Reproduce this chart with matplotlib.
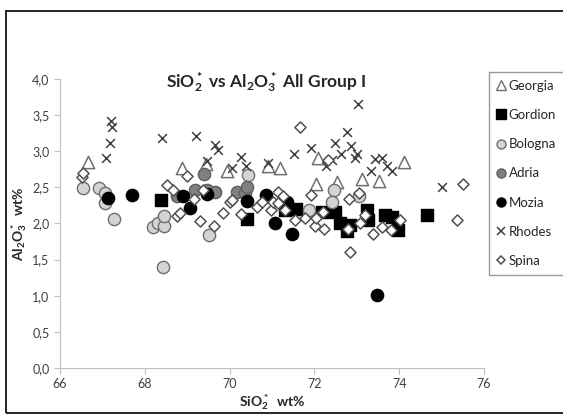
import matplotlib
matplotlib.use("Agg")
import matplotlib.pyplot as plt
from matplotlib.lines import Line2D
from matplotlib.patches import Rectangle
from matplotlib.ticker import FuncFormatter

plt.rcParams['font.family'] = ['Lato', 'DejaVu Sans']
plt.rcParams['mathtext.fontset'] = 'custom'
plt.rcParams['mathtext.rm'] = 'Lato'
plt.rcParams['mathtext.bf'] = 'Lato:bold'

# data (SiO2*, Al2O3* wt%)
georgia_x = [66.67, 68.87, 69.45, 69.95, 70.91, 71.19, 72.09, 72.04, 72.54, 73.12, 73.53, 74.12]
georgia_y = [2.85, 2.77, 2.82, 2.73, 2.79, 2.77, 2.91, 2.54, 2.58, 2.61, 2.59, 2.85]

gordion_x = [68.37, 70.40, 71.30, 71.57, 72.17, 72.49, 72.60, 72.76, 72.84, 73.23, 73.27, 73.66, 73.82, 73.98, 74.65]
gordion_y = [2.33, 2.06, 2.18, 2.20, 2.16, 2.16, 2.01, 1.89, 1.98, 2.19, 2.05, 2.12, 2.09, 1.91, 2.12]

bologna_x = [66.55, 66.93, 67.06, 67.06, 67.27, 68.19, 68.30, 68.45, 68.45, 68.42, 69.52, 70.44, 71.88, 72.46, 72.41, 73.06]
bologna_y = [2.49, 2.49, 2.42, 2.28, 2.06, 1.95, 2.01, 1.96, 2.10, 1.40, 1.84, 2.67, 2.19, 2.47, 2.30, 2.38]

adria_x = [68.75, 69.18, 69.40, 69.46, 69.66, 70.17, 70.36, 70.42]
adria_y = [2.38, 2.47, 2.68, 2.46, 2.44, 2.44, 2.42, 2.51]

mozia_x = [67.13, 67.69, 68.89, 69.07, 69.46, 70.40, 70.86, 71.07, 71.35, 71.46, 73.47]
mozia_y = [2.35, 2.39, 2.38, 2.22, 2.41, 2.31, 2.39, 2.01, 2.30, 1.85, 1.01]

rhodes_x = [67.20, 67.22, 67.18, 67.08, 68.40, 69.21, 69.65, 69.72, 69.46, 70.28, 70.05, 70.38, 70.90,
            71.53, 71.92, 72.27, 72.41, 72.49, 72.62, 72.78, 72.86, 72.95, 73.00, 73.02, 73.33, 73.43,
            73.59, 73.72, 73.82, 75.01]
rhodes_y = [3.42, 3.34, 3.12, 2.91, 3.18, 3.21, 3.08, 3.02, 2.86, 2.92, 2.77, 2.80, 2.84,
            2.96, 3.04, 2.80, 2.88, 3.11, 2.96, 3.27, 3.07, 2.90, 2.96, 3.65, 2.72, 2.89,
            2.90, 2.80, 2.73, 2.50]

spina_x = [66.52, 66.55, 68.52, 68.66, 68.75, 68.83, 68.99, 69.16, 69.30, 69.38, 69.62, 69.85, 70.00,
           70.05, 70.27, 70.64, 70.76, 70.97, 71.02, 71.13, 71.15, 71.25, 71.31, 71.54, 71.65, 71.78,
           71.91, 72.01, 72.04, 72.21, 72.23, 72.31, 72.80, 72.82, 72.84, 73.06, 73.08, 73.20, 73.38,
           73.59, 73.80, 74.02, 75.36, 75.50]
spina_y = [2.65, 2.70, 2.53, 2.46, 2.10, 2.14, 2.66, 2.34, 2.04, 2.46, 1.97, 2.15, 2.30,
           2.33, 2.13, 2.23, 2.30, 2.18, 2.30, 2.28, 2.43, 2.38, 2.19, 2.05, 3.33, 2.08,
           2.40, 1.97, 2.07, 2.16, 1.92, 2.88, 1.93, 2.34, 1.61, 2.42, 2.00, 2.12, 1.85,
           1.95, 1.91, 2.05, 2.05, 2.55]

fig = plt.figure(figsize=(5.63, 4.16), dpi=100)
ax = fig.add_axes([0.1066, 0.1154, 0.7531, 0.6947])

# chart area frame
fig.patches.append(Rectangle((0.0107, 0.0072), 1.2, 0.9664, transform=fig.transFigure,
                             fill=False, edgecolor='black', linewidth=1.2))

ms = 78
ax.scatter(georgia_x, georgia_y, marker='^', s=ms, facecolor='white', edgecolor='#707070', linewidth=1.1, label='Georgia')
ax.scatter(gordion_x, gordion_y, marker='s', s=70, facecolor='black', edgecolor='black', linewidth=1, label='Gordion')
ax.scatter(bologna_x, bologna_y, marker='o', s=ms, facecolor='#d4d4d4', edgecolor='#6e6e6e', linewidth=1, label='Bologna')
ax.scatter(adria_x, adria_y, marker='o', s=ms, facecolor='#808080', edgecolor='#5e5e5e', linewidth=1, label='Adria')
ax.scatter(mozia_x, mozia_y, marker='o', s=ms, facecolor='black', edgecolor='black', linewidth=1, label='Mozia')
ax.scatter(rhodes_x, rhodes_y, marker='x', s=40, color='#404040', linewidth=1.1, label='Rhodes')
ax.scatter(spina_x, spina_y, marker='D', s=32, facecolor='white', edgecolor='#505050', linewidth=1.1, label='Spina')

ax.set_xlim(66, 76)
ax.set_ylim(0, 4)
ax.set_xticks([66, 68, 70, 72, 74, 76])
ax.set_yticks([0, 0.5, 1, 1.5, 2, 2.5, 3, 3.5, 4])
ax.yaxis.set_major_formatter(FuncFormatter(lambda v, p: f"{v:.1f}".replace('.', ',')))
for s in ['top', 'right']:
    ax.spines[s].set_visible(False)
for s in ['left', 'bottom']:
    ax.spines[s].set_color('#bfbfbf')
ax.tick_params(colors='#bfbfbf', labelcolor='#404040', labelsize=9, length=4, direction='out')

ax.set_title(r"SiO$\mathbf{_2^*}$ vs Al$\mathbf{_2}$O$\mathbf{_3^*}$ All Group I",
             fontsize=12.5, fontweight='bold', color='#262626', pad=0, x=0.485, y=0.972)
ax.set_xlabel(r"SiO$\mathbf{_2^*}$  wt%", fontsize=10, fontweight='bold', color='#262626', labelpad=1)
ax.set_ylabel(r"Al$\mathbf{_2}$O$\mathbf{_3^*}$  wt%", fontsize=10, fontweight='bold', color='#262626', labelpad=2)

handles = [
    Line2D([], [], ls='', marker='^', ms=6.5, mfc='white', mec='#707070', mew=1),
    Line2D([], [], ls='', marker='s', ms=6.5, mfc='black', mec='black'),
    Line2D([], [], ls='', marker='o', ms=6.5, mfc='#d4d4d4', mec='#6e6e6e'),
    Line2D([], [], ls='', marker='o', ms=6.5, mfc='#808080', mec='#5e5e5e'),
    Line2D([], [], ls='', marker='o', ms=6.5, mfc='black', mec='black'),
    Line2D([], [], ls='', marker='x', ms=6, color='#404040', mew=1.1),
    Line2D([], [], ls='', marker='D', ms=4.5, mfc='white', mec='#505050', mew=1.1),
]
labels = ['Georgia', 'Gordion', 'Bologna', 'Adria', 'Mozia', 'Rhodes', 'Spina']
leg = fig.legend(handles, labels, loc='upper left', bbox_to_anchor=(489 / 563, 1 - 72 / 416),
                 fontsize=9.5, labelspacing=1.3, handlelength=0.6, handletextpad=0.3,
                 borderpad=0.6, borderaxespad=0, frameon=True, fancybox=False)
leg.get_frame().set_edgecolor('#808080')
leg.get_frame().set_linewidth(1)
for t in leg.get_texts():
    t.set_color('#262626')

fig.savefig("out.png", dpi=100)
